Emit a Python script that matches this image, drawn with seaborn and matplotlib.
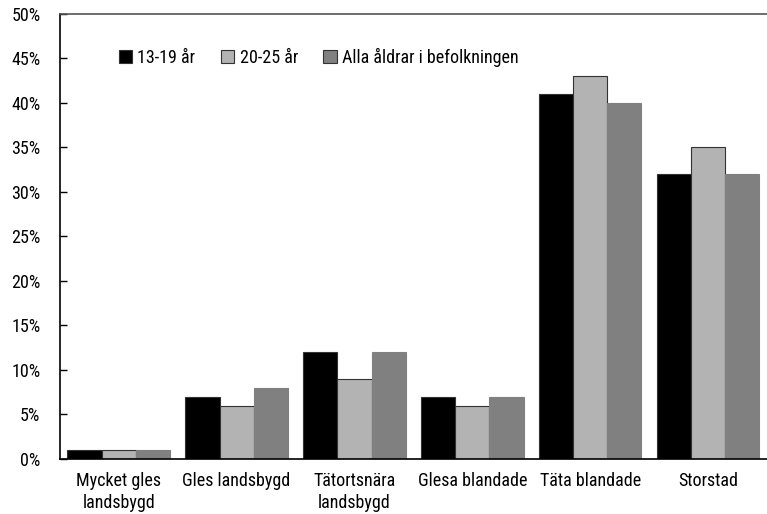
import numpy as np
import pandas as pd
import matplotlib.pyplot as plt
import seaborn as sns
from matplotlib import font_manager
from matplotlib.ticker import FixedLocator, PercentFormatter

categories = ["Mycket gles\nlandsbygd", "Gles landsbygd", "Tätortsnära\nlandsbygd",
              "Glesa blandade", "Täta blandade", "Storstad"]
series_names = ["13-19 år", "20-25 år", "Alla åldrar i befolkningen"]
teen = [1, 7, 12, 7, 41, 32]
young = [1, 6, 9, 6, 43, 35]
everyone = [1, 8, 12, 7, 40, 32]
colors = ["#000000", "#b3b3b3", "#808080"]

df = pd.DataFrame({
    "kategori": categories * 3,
    "grupp": [series_names[0]] * 6 + [series_names[1]] * 6 + [series_names[2]] * 6,
    "andel": teen + young + everyone,
})

# pick the narrowest font we can find
installed = {f.name for f in font_manager.fontManager.ttflist}
font = next(f for f in ["Liberation Sans Narrow", "Roboto Condensed", "Open Sans Condensed",
                        "Roboto", "Lato", "DejaVu Sans"] if f in installed)

sns.set_style("white")
plt.rcParams["font.family"] = [font, "DejaVu Sans"]
plt.rcParams["font.size"] = 13
plt.rcParams["text.color"] = "black"
plt.rcParams["xtick.color"] = "black"
plt.rcParams["ytick.color"] = "black"

fig, ax = plt.subplots(figsize=(7.67, 5.14), dpi=100)
sns.barplot(data=df, x="kategori", y="andel", hue="grupp", palette=colors,
            width=0.87, edgecolor="#333333", linewidth=0.8, ax=ax)
for bar, col in zip(ax.patches, np.repeat(colors, 6)):
    if col == "#808080":
        bar.set_edgecolor("#808080")

ax.set_xlim(-0.5, 5.5)
ax.set_ylim(0, 50)
ax.set_yticks(np.arange(0, 51, 5))
ax.yaxis.set_major_formatter(PercentFormatter(decimals=0))
ax.set_xlabel("")
ax.set_ylabel("")

ax.tick_params(axis="x", which="major", length=0, pad=9, labelsize=13)
ax.xaxis.set_minor_locator(FixedLocator(np.arange(-0.5, 6, 1)))
ax.tick_params(axis="x", which="minor", length=10, direction="inout", width=1, color="black")
ax.tick_params(axis="y", length=5, direction="in", width=1, color="black", left=True,
               pad=14, labelsize=13)
for lbl in ax.get_xticklabels():
    lbl.set_linespacing(1.3)

for side in ["left", "bottom"]:
    ax.spines[side].set_color("black")
    ax.spines[side].set_linewidth(1.2)
ax.spines["top"].set_color("#555555")
ax.spines["top"].set_linewidth(1.2)
ax.spines["right"].set_visible(False)

ax.legend(loc="upper left", bbox_to_anchor=(0.06, 0.96), ncol=3, frameon=False,
          handlelength=0.75, handleheight=0.75, handletextpad=0.3, columnspacing=1.4,
          fontsize=13)

fig.subplots_adjust(left=0.078, right=1.0, top=0.973, bottom=0.107)
fig.savefig("out.png", dpi=100)
